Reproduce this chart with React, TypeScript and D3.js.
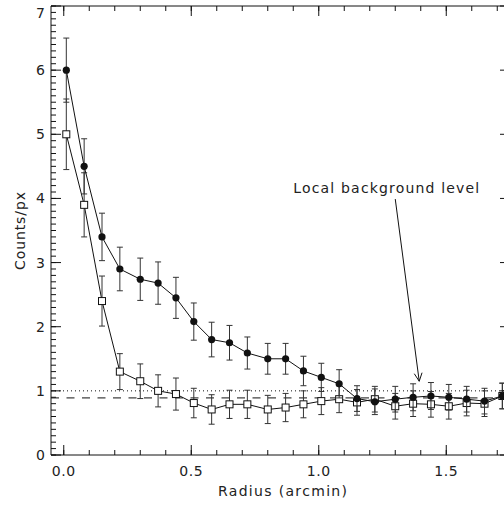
import React from 'react';
import * as d3 from 'd3';

const radius = [0.01, 0.08, 0.15, 0.22, 0.30, 0.37, 0.44, 0.51, 0.58, 0.65, 0.72, 0.80, 0.87, 0.94, 1.01, 1.08, 1.15, 1.22, 1.30, 1.37, 1.44, 1.51, 1.58, 1.65, 1.72];
const countsFilled = [6.0, 4.5, 3.40, 2.90, 2.74, 2.68, 2.45, 2.08, 1.80, 1.75, 1.59, 1.50, 1.50, 1.31, 1.21, 1.11, 0.88, 0.83, 0.87, 0.90, 0.92, 0.90, 0.87, 0.84, 0.92];
const errFilled = [0.5, 0.43, 0.37, 0.34, 0.33, 0.33, 0.32, 0.29, 0.27, 0.27, 0.25, 0.24, 0.24, 0.23, 0.22, 0.22, 0.2, 0.2, 0.2, 0.21, 0.21, 0.2, 0.2, 0.2, 0.2];
const countsOpen = [5.0, 3.9, 2.40, 1.30, 1.15, 1.0, 0.95, 0.81, 0.71, 0.79, 0.79, 0.71, 0.74, 0.79, 0.84, 0.87, 0.82, 0.87, 0.76, 0.80, 0.79, 0.76, 0.81, 0.80, 0.92];
const errOpen = [0.55, 0.5, 0.39, 0.28, 0.27, 0.25, 0.25, 0.23, 0.23, 0.22, 0.22, 0.22, 0.22, 0.21, 0.21, 0.21, 0.2, 0.2, 0.2, 0.2, 0.2, 0.2, 0.2, 0.2, 0.2];

const xTickValues = [0, 0.5, 1.0, 1.5];
const xTickLabels = ['0.0', '0.5', '1.0', '1.5'];
const yTickValues = [0, 1, 2, 3, 4, 5, 6, 7];
const yTickLabels = ['0', '1', '2', '3', '4', '5', '6', '7'];

const backgroundLevel = 1.0;
const fittedLevel = 0.89;
const annotationText = 'Local background level';
const annotationPos = [0.9, 4.08];
const arrowFrom = [1.30, 3.99];
const arrowTo = [1.394, 1.15];

const xTitle = 'Radius (arcmin)';
const yTitle = 'Counts/px';

export default function App() {
  const W = 504, H = 506;
  const x = d3.scaleLinear().domain([-0.05, 1.75]).range([51, 510]);
  const y = d3.scaleLinear().domain([0, 7]).range([455, 6]);
  const [x0, x1] = x.range();
  const [y0, y1] = y.range();

  const lineGen = (vals: number[]) =>
    d3.line<number>().x((_, i) => x(radius[i])).y(d => y(d))(vals) || '';

  const xMinor = d3.range(0, 1.75, 0.1).filter(v => v >= -0.05);
  const yMinor = d3.range(0, 7.001, 0.1);

  const font = '"DejaVu Sans", sans-serif';
  const ink = '#111';
  const textInk = '#222';

  // arrow geometry
  const ax1 = x(arrowFrom[0]), ay1 = y(arrowFrom[1]);
  const ax2 = x(arrowTo[0]), ay2 = y(arrowTo[1]);
  const ang = Math.atan2(ay2 - ay1, ax2 - ax1);
  const hl = 9, ha = 0.45;
  const h1 = [ax2 - hl * Math.cos(ang - ha), ay2 - hl * Math.sin(ang - ha)];
  const h2 = [ax2 - hl * Math.cos(ang + ha), ay2 - hl * Math.sin(ang + ha)];

  const errBars = (vals: number[], errs: number[]) =>
    vals.map((v, i) => {
      const cx = x(radius[i]);
      const top = y(v + errs[i]);
      const bot = y(v - errs[i]);
      return (
        <g key={i} stroke="#333" strokeWidth={1} fill="none">
          <line x1={cx} x2={cx} y1={top} y2={bot} />
          <line x1={cx - 3} x2={cx + 3} y1={top} y2={top} />
          <line x1={cx - 3} x2={cx + 3} y1={bot} y2={bot} />
        </g>
      );
    });

  return (
    <svg width={W} height={H} style={{ position: 'absolute', left: 0, top: 0, background: '#fff' }}>
      <rect x={0} y={0} width={W} height={H} fill="#fff" />
      <defs>
        <clipPath id="plot">
          <rect x={x0} y={y1} width={x1 - x0} height={y0 - y1} />
        </clipPath>
      </defs>

      {/* reference levels */}
      <g clipPath="url(#plot)">
        <line x1={x0} x2={x1} y1={y(backgroundLevel)} y2={y(backgroundLevel)} stroke={ink} strokeWidth={1} strokeDasharray="1,3" />
        <line x1={x0} x2={x1} y1={y(fittedLevel)} y2={y(fittedLevel)} stroke={ink} strokeWidth={1} strokeDasharray="8,7.5" />

        {/* open squares series */}
        <path d={lineGen(countsOpen)} fill="none" stroke={ink} strokeWidth={1} />
        {errBars(countsOpen, errOpen)}
        {countsOpen.map((v, i) => (
          <rect key={i} x={x(radius[i]) - 3.5} y={y(v) - 3.5} width={7} height={7} fill="#fff" stroke={ink} strokeWidth={1} />
        ))}

        {/* filled circles series */}
        <path d={lineGen(countsFilled)} fill="none" stroke={ink} strokeWidth={1} />
        {errBars(countsFilled, errFilled)}
        {countsFilled.map((v, i) => (
          <circle key={i} cx={x(radius[i])} cy={y(v)} r={3.6} fill={ink} />
        ))}
      </g>

      {/* axes box */}
      <g stroke={ink} strokeWidth={1} fill="none">
        <line x1={x0} x2={x1} y1={y0} y2={y0} />
        <line x1={x0} x2={x1} y1={y1} y2={y1} />
        <line x1={x0} x2={x0} y1={y0} y2={y1} />
        <line x1={x1} x2={x1} y1={y0} y2={y1} />
        {xMinor.map((v, i) => (
          <g key={'xm' + i}>
            <line x1={x(v)} x2={x(v)} y1={y0} y2={y0 - 5} />
            <line x1={x(v)} x2={x(v)} y1={y1} y2={y1 + 5} />
          </g>
        ))}
        {xTickValues.map((v, i) => (
          <g key={'xM' + i}>
            <line x1={x(v)} x2={x(v)} y1={y0} y2={y0 - 10} />
            <line x1={x(v)} x2={x(v)} y1={y1} y2={y1 + 10} />
          </g>
        ))}
        {yMinor.map((v, i) => (
          <g key={'ym' + i}>
            <line x1={x0} x2={x0 + 5} y1={y(v)} y2={y(v)} />
            <line x1={x1} x2={x1 - 5} y1={y(v)} y2={y(v)} />
          </g>
        ))}
        {yTickValues.map((v, i) => (
          <g key={'yM' + i}>
            <line x1={x0} x2={x0 + 10} y1={y(v)} y2={y(v)} />
            <line x1={x1} x2={x1 - 10} y1={y(v)} y2={y(v)} />
          </g>
        ))}
      </g>

      {/* tick labels */}
      <g fontFamily={font} fontSize={14} fill={textInk}>
        {xTickValues.map((v, i) => (
          <text key={'xl' + i} x={x(v)} y={476} textAnchor="middle" letterSpacing={0.6}>{xTickLabels[i]}</text>
        ))}
        {yTickValues.map((v, i) => (
          <text key={'yl' + i} x={45} y={Math.max(y(v) + 5, 18)} textAnchor="end">{yTickLabels[i]}</text>
        ))}
        <text x={218} y={496} textLength={129} lengthAdjust="spacing">{xTitle}</text>
        <text transform={`translate(25,270) rotate(-90)`} textLength={78} lengthAdjust="spacing">{yTitle}</text>
        <text x={x(annotationPos[0])} y={y(annotationPos[1])} textLength={186} lengthAdjust="spacing">{annotationText}</text>
      </g>

      {/* arrow */}
      <g stroke={ink} strokeWidth={1} fill="none">
        <line x1={ax1} y1={ay1} x2={ax2} y2={ay2} />
        <polyline points={`${h1[0]},${h1[1]} ${ax2},${ay2} ${h2[0]},${h2[1]}`} />
      </g>
    </svg>
  );
}
